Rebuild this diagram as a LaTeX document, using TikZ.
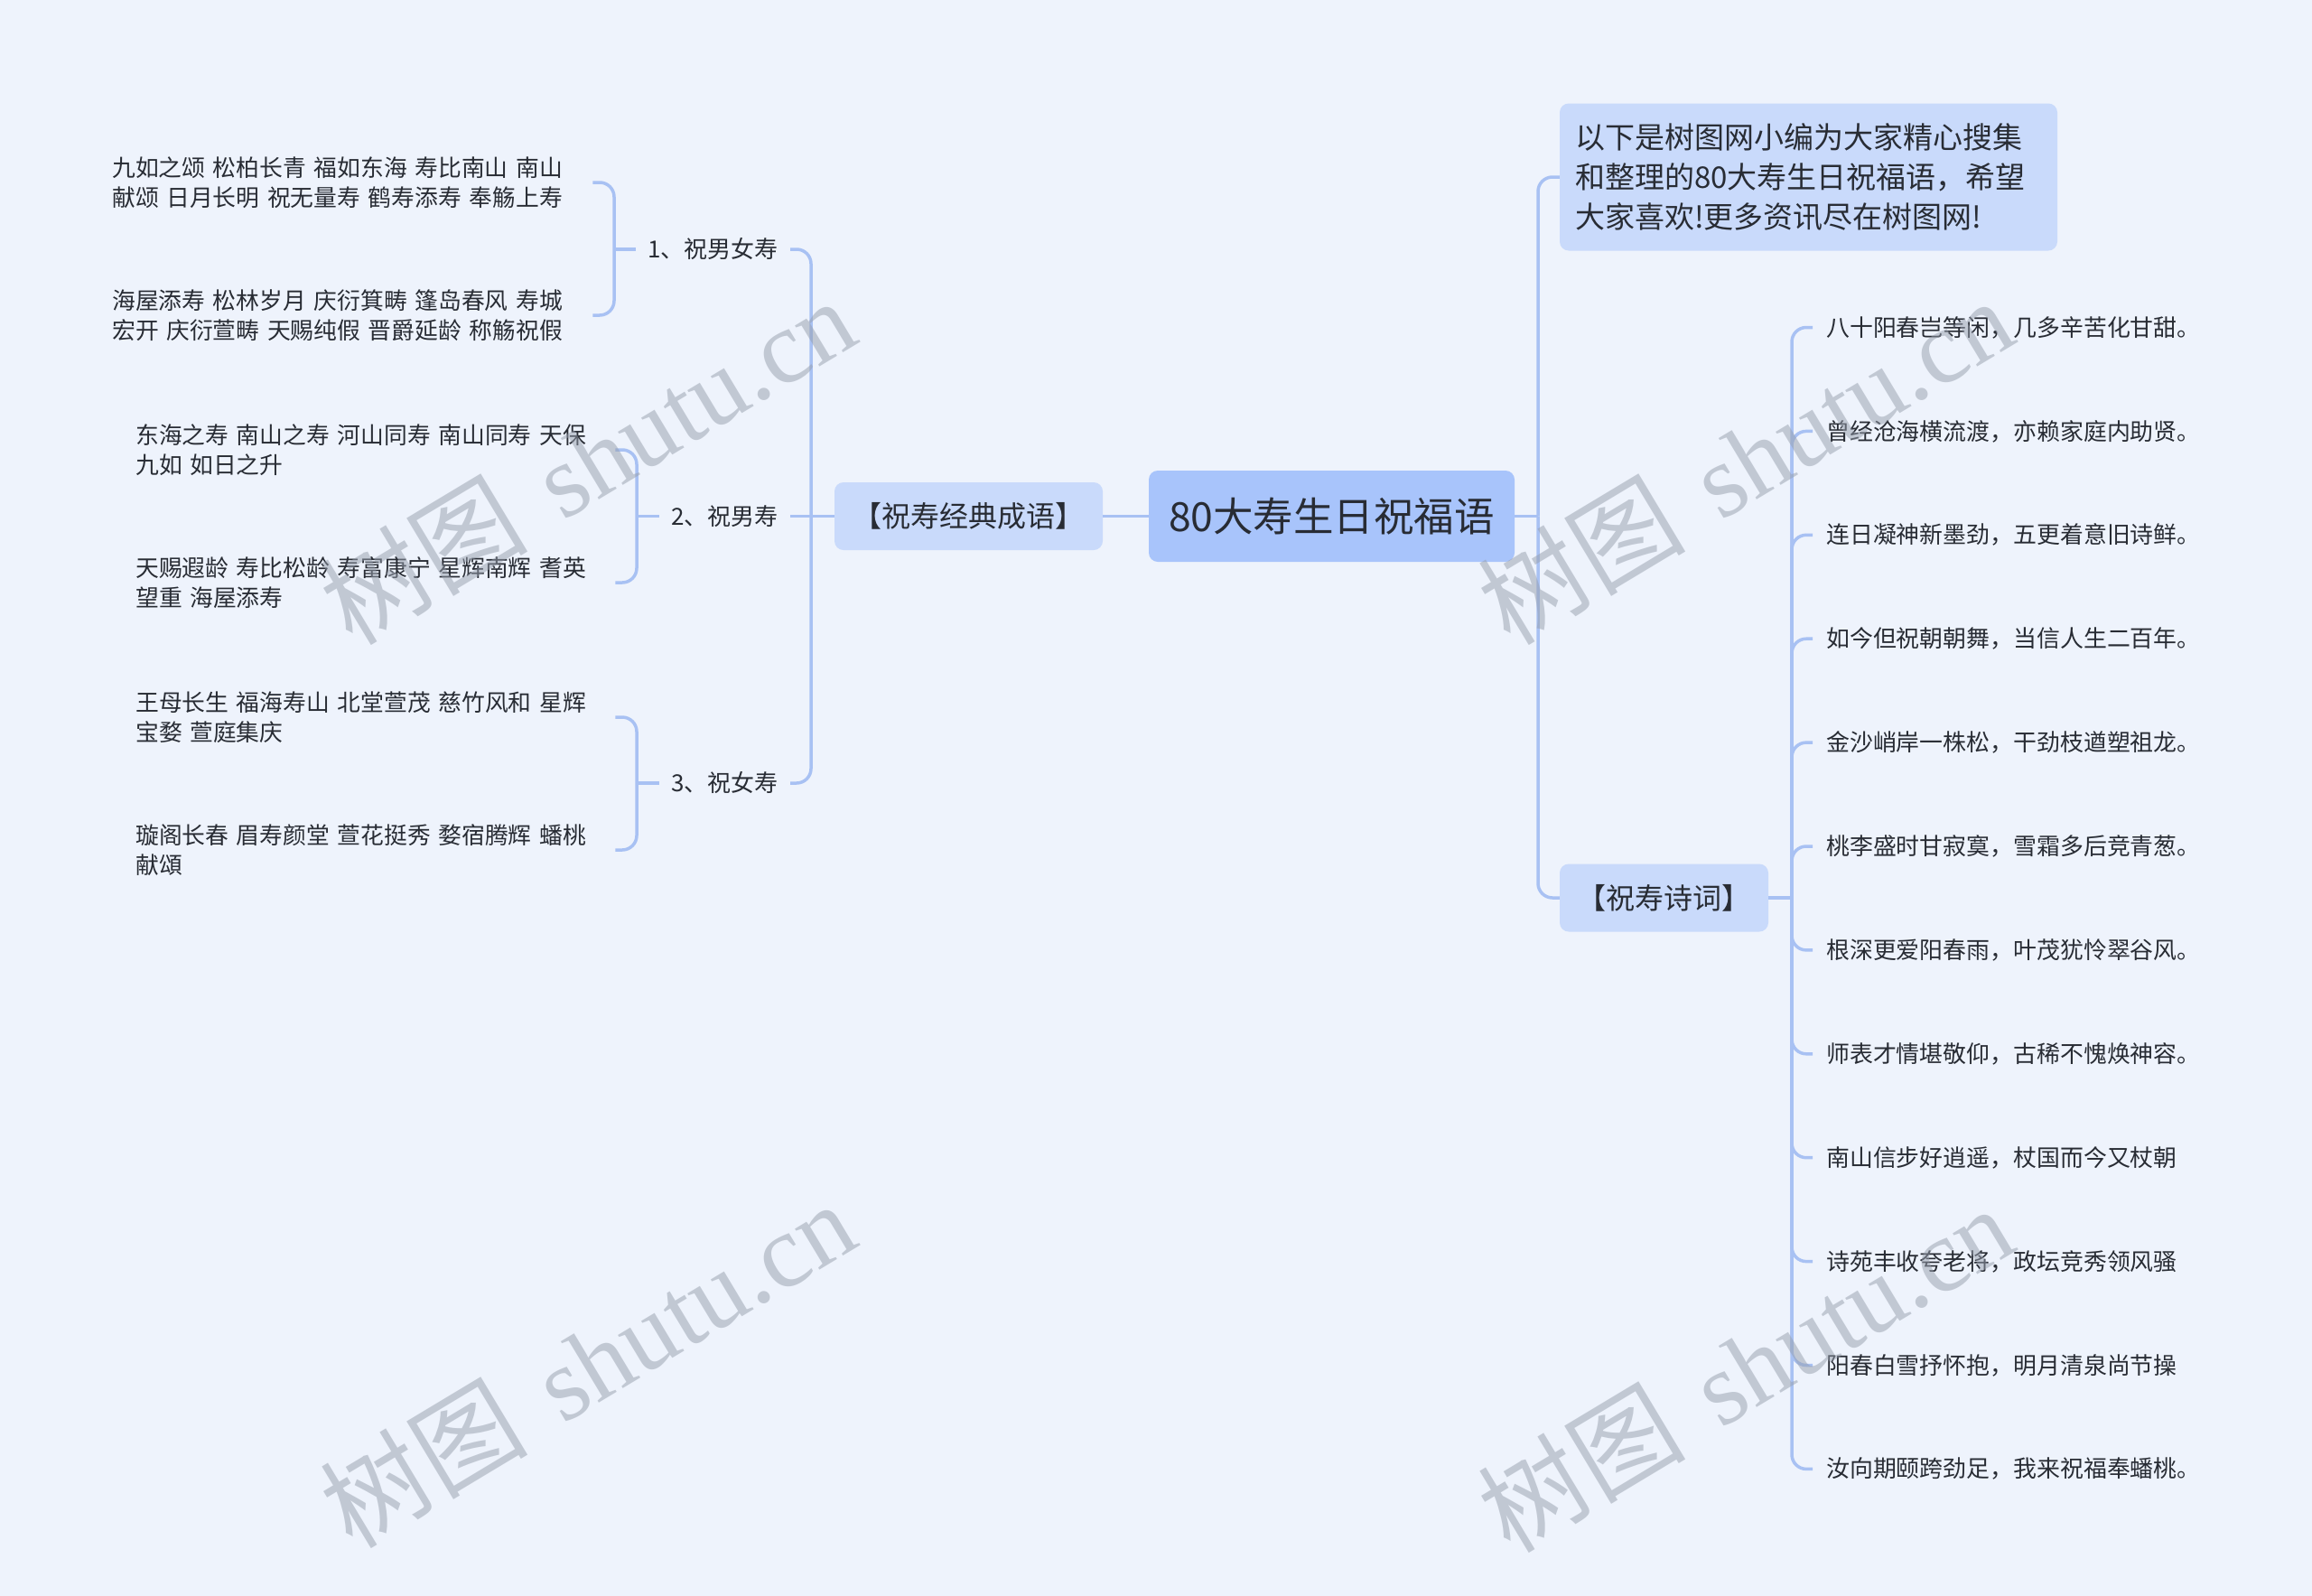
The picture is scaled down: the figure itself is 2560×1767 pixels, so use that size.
\documentclass[tikz,border=0pt]{standalone}
\usepackage{fontspec}
\setmainfont{Noto Sans CJK SC}[WordSpace=1.6]
\newfontfamily\wmlatin{Liberation Serif}
\definecolor{bgc}{RGB}{238,243,252}
\definecolor{linec}{RGB}{168,193,243}
\definecolor{rootc}{RGB}{168,196,251}
\definecolor{subc}{RGB}{201,218,251}
\definecolor{txtc}{RGB}{40,44,52}
\definecolor{wmc}{RGB}{150,158,172}
\begin{document}
\begin{tikzpicture}[x=1pt,y=-1pt,
 conn/.style={draw=linec,line width=3.5pt,rounded corners=16pt},
 rootbox/.style={fill=rootc,rounded corners=10pt,minimum width=405pt,minimum height=101pt,inner sep=0pt,font=\fontsize{44.5}{50}\selectfont,text=txtc},
 subbox/.style={fill=subc,rounded corners=10pt,minimum height=75pt,inner sep=0pt,font=\fontsize{32}{40}\selectfont,text=txtc},
 introbox/.style={fill=subc,rounded corners=10pt,minimum height=163pt,inner xsep=17pt,inner ysep=0pt,text width=517pt,align=left,font=\fontsize{33}{44}\selectfont,text=txtc},
 lab/.style={inner xsep=13pt,inner ysep=4pt,font=\fontsize{26}{30}\selectfont,text=txtc,anchor=east},
 lleaf/.style={inner sep=0pt,text width=531pt,align=left,anchor=west,font=\fontsize{25.8}{33}\selectfont,text=txtc},
 rleaf/.style={inner xsep=15pt,inner ysep=4pt,anchor=west,font=\fontsize{25.9}{30}\selectfont,text=txtc},
 wm/.style={text=wmc,opacity=0.5,rotate=31,font=\fontsize{115}{120}\selectfont}
]
\fill[bgc] (0,0) rectangle (2560,1767);
\useasboundingbox (0,0) rectangle (2560,1767);

% main nodes
\node[rootbox] (root) at (1474.5,571.5) {80大寿生日祝福语};
\node[subbox,minimum width=297pt] (cy) at (1072.5,571.5) {【祝寿经典成语】};
\node[subbox,minimum width=231pt] (sc) at (1842.5,994) {【祝寿诗词】};
\node[introbox] (intro) at (2002.5,196) {以下是树图网小编为大家精心搜集\\和整理的80大寿生日祝福语，希望\\大家喜欢!更多资讯尽在树图网!};

% left labels
\node[lab] (g1) at (875,276) {1、祝男女寿};
\node[lab] (g2) at (875,571.5) {2、祝男寿};
\node[lab] (g3) at (875,867) {3、祝女寿};

% left leaves
\node[lleaf,text width=532pt] (a1) at (124,202) {九如之颂 松柏长青 福如东海 寿比南山 南山\\献颂 日月长明 祝无量寿 鹤寿添寿 奉觞上寿};
\node[lleaf,text width=532pt] (a2) at (124,349) {海屋添寿 松林岁月 庆衍箕畴 篷岛春风 寿城\\宏开 庆衍萱畴 天赐纯假 晋爵延龄 称觞祝假};
\node[lleaf] (a3) at (150,498) {东海之寿 南山之寿 河山同寿 南山同寿 天保\\九如 如日之升};
\node[lleaf] (a4) at (150,645) {天赐遐龄 寿比松龄 寿富康宁 星辉南辉 耆英\\望重 海屋添寿};
\node[lleaf] (a5) at (150,794) {王母长生 福海寿山 北堂萱茂 慈竹风和 星辉\\宝婺 萱庭集庆};
\node[lleaf] (a6) at (150,941) {璇阁长春 眉寿颜堂 萱花挺秀 婺宿腾辉 蟠桃\\献頌};

% right leaves
\node[rleaf] (r1) at (2007,362.5) {八十阳春岂等闲，几多辛苦化甘甜。};
\node[rleaf] (r2) at (2007,477.4) {曾经沧海横流渡，亦赖家庭内助贤。};
\node[rleaf] (r3) at (2007,592.3) {连日凝神新墨劲，五更着意旧诗鲜。};
\node[rleaf] (r4) at (2007,707.2) {如今但祝朝朝舞，当信人生二百年。};
\node[rleaf] (r5) at (2007,822.1) {金沙峭岸一株松，干劲枝遒塑祖龙。};
\node[rleaf] (r6) at (2007,937.0) {桃李盛时甘寂寞，雪霜多后竞青葱。};
\node[rleaf] (r7) at (2007,1051.9) {根深更爱阳春雨，叶茂犹怜翠谷风。};
\node[rleaf] (r8) at (2007,1166.8) {师表才情堪敬仰，古稀不愧焕神容。};
\node[rleaf] (r9) at (2007,1281.7) {南山信步好逍遥，杖国而今又杖朝};
\node[rleaf] (r10) at (2007,1396.6) {诗苑丰收夸老将，政坛竞秀领风骚};
\node[rleaf] (r11) at (2007,1511.5) {阳春白雪抒怀抱，明月清泉尚节操};
\node[rleaf] (r12) at (2007,1626.4) {汝向期颐跨劲足，我来祝福奉蟠桃。};

% coordinates
\coordinate (vl) at (898,571.5);
\coordinate (vr) at (1703,571.5);
\coordinate (vs) at (1984,994);
\coordinate (b1) at (680,276);
\coordinate (b2) at (705,571.5);
\coordinate (b3) at (705,867);

% left connectors
\draw[conn] (cy.west) -- (g2.east);
\draw[conn] (vl) |- (g1.east);
\draw[conn] (vl) |- (g3.east);
\draw[conn] (a1.east) -| (b1) |- (a2.east);
\draw[conn] (b1) -- (g1.west);
\draw[conn] (a3.east) -| (b2) |- (a4.east);
\draw[conn] (b2) -- (g2.west);
\draw[conn] (a5.east) -| (b3) |- (a6.east);
\draw[conn] (b3) -- (g3.west);

% right connectors
\draw[conn] (root.east) -- (vr);
\draw[conn] (root.west) -- (cy.east);
\draw[conn] (vr) |- (intro.west);
\draw[conn] (vr) |- (sc.west);
\draw[conn] (sc.east) -- (vs);
\foreach \i in {1,...,12} {\draw[conn] (vs) |- (r\i.west);}

% watermarks
\node[wm] (w1) at (650,510) {树图 {\wmlatin shutu.cn}};
\node[wm] (w2) at (1932,510) {树图 {\wmlatin shutu.cn}};
\node[wm] (w3) at (650,1510) {树图 {\wmlatin shutu.cn}};
\node[wm] (w4) at (1932,1515) {树图 {\wmlatin shutu.cn}};
\end{tikzpicture}
\end{document}
